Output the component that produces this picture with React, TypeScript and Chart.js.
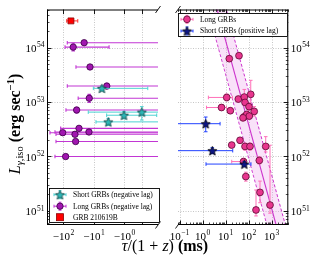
import React, { useEffect, useRef } from "react";
import { Chart, registerables, Scale } from "chart.js";

// ================= DATA =================
// Left panel (negative lags, ms)
const shortNegTau = [-5.5, -0.01, -1.04, -3.4];
const shortNegL = [1.78e53, 6.5e52, 5.7e52, 4.3e52];
const shortNegTauLo = [-10.5, -15.4, -3.84, -8.6];
const shortNegTauHi = [0.33, 5, 0.84, 5];
const shortNegLLo = [1.62e53, 4.65e52, 4.9e52, 3.7e52];
const shortNegLHi = [1.96e53, 8.2e52, 6.7e52, 5.0e52];

const longNegTau = [-21, -48, -13.5, -3.8, -14.3, -37, -31, -106, -14.6, -42, -40, -85];
const longNegL = [1.23e54, 1.02e54, 4.4e53, 1.96e53, 1.17e53, 7.1e52, 3.27e52, 2.72e52, 2.8e52, 2.54e52, 1.87e52, 9.9e51];
const longNegTauLo = [-75, -89, -39, -75, -33, -83, -124, -277, -190, -176, -176, -190];
const longNegTauHi = [5, -3.2, 5, 5, 5, 5, 5, 5, 5, 5, 5, 5];
const longNegLLo = [1.15e54, 0.87e54, 4.1e53, 1.75e53, 0.98e53, 6.3e52, 2.95e52, 2.5e52, 2.6e52, 2.35e52, 1.72e52, 9.3e51];
const longNegLHi = [1.32e54, 1.2e54, 4.7e53, 2.2e53, 1.38e53, 8.0e52, 3.6e52, 2.95e52, 3.0e52, 2.75e52, 2.03e52, 1.05e52];

const grbTau = [-57];
const grbL = [3.1e54];
const grbTauLo = [-78.5];
const grbTauHi = [-34];
const grbLLo = [2.95e54];
const grbLHi = [3.25e54];

// Right panel (positive lags, ms)
const longTau = [14.6, 38.6, 11.3, 36, 65.6, 125, 6.7, 16.2, 70.5, 105, 177, 63.7, 83.5, 108, 57.7, 18.6, 42.7, 70.5, 116, 560, 295, 60.7, 76.3, 316, 212, 861];
const longL = [6.25e53, 7.1e53, 1.21e53, 1.13e53, 1.23e53, 1.38e53, 7.9e52, 6.9e52, 9.8e52, 8.2e52, 6.7e52, 5.3e52, 5.9e52, 5.5e52, 5.1e52, 1.61e52, 1.97e52, 1.52e52, 1.52e52, 1.52e52, 8.4e51, 8.0e51, 4.24e51, 2.17e51, 1.03e51, 1.27e51];
const longTauLo = [12, 33, 1.8, 28, 55, 100, 1.5, 12, 60, 90, 150, 54, 70, 90, 48, 15, 35, 60, 98, 470, 250, 18.6, 65, 270, 180, 740];
const longTauHi = [18, 45, 20, 46, 78, 150, 11, 21, 82, 125, 210, 75, 100, 130, 68, 23, 52, 82, 135, 660, 350, 75, 90, 370, 250, 1000];
const longLLo = [5.7e53, 6.5e53, 1.05e53, 1.0e53, 0.9e53, 0.8e53, 7.0e52, 6.1e52, 8.5e52, 7.0e52, 5.5e52, 4.6e52, 5.2e52, 4.8e52, 4.5e52, 1.45e52, 1.75e52, 1.3e52, 1.3e52, 1.2e52, 7.2e51, 7.0e51, 3.5e51, 1.4e51, 0.8e51, 0.9e51];
const longLHi = [6.85e53, 7.8e53, 1.4e53, 1.28e53, 1.7e53, 2.5e53, 9.0e52, 7.8e52, 1.12e53, 9.6e52, 8.2e52, 6.1e52, 6.7e52, 6.3e52, 5.8e52, 1.8e52, 2.2e52, 1.75e52, 1.75e52, 2.3e52, 9.8e51, 9.2e51, 5.1e51, 3.5e51, 2.4e51, 1.6e52];

const shortPosTau = [1.38, 2.67, 65.6];
const shortPosL = [3.98e52, 1.27e52, 7.2e51];
const shortPosTauLo = [0.05, 0.05, 1.42];
const shortPosTauHi = [5.8, 20.6, 128];
const shortPosLLo = [2.83e52, 1.12e52, 6.5e51];
const shortPosLHi = [5.28e52, 1.44e52, 8.0e51];

// Fit line and 1-sigma band (end points)
const fitTau = [3, 6000];
const fitL = [8.8e54, 7.0e49];
const fitUpperL = [3.66e55, 2.93e50];
const fitLowerL = [2.1e54, 1.69e49];

// Ticks
const yTickExp = [51, 52, 53, 54];
const leftXTicks = [-100, -10, -1, 0];
const leftXLabels = ["2", "1", "0"];
const rightXTickExp = [-1, 0, 1, 2, 3];

// Legend labels
const leftLegend = ["Short GRBs (negative lag)", "Long GRBs (negative lag)", "GRB 210619B"];
const rightLegend = ["Long GRBs", "Short GRBs (positive lag)"];

// Axis ranges
const Y_MIN = 5.45e50;
const Y_MAX = 5.02e54;
const LX_MIN = -347;
const LX_MAX = 0.914;
const RX_MIN = 0.086;
const RX_MAX = 5373;

// ================= SYMLOG SCALE =================
const LIN = 0.574;
function symT(v: number): number {
  const a = Math.abs(v);
  return a <= 1 ? v * LIN : Math.sign(v) * (LIN + Math.log10(a));
}
function symInv(t: number): number {
  const a = Math.abs(t);
  return a <= LIN ? t / LIN : Math.sign(t) * Math.pow(10, a - LIN);
}

class SymLogScale extends (Scale as any) {
  static id = "symlog";
  static defaults = {};
  determineDataLimits() {
    this.min = this.options.min;
    this.max = this.options.max;
  }
  buildTicks() {
    return leftXTicks.map((v) => ({ value: v }));
  }
  getLabelForValue(v: number) {
    return String(v);
  }
  configure() {
    super.configure();
    this._t0 = symT(this.min);
    this._t1 = symT(this.max);
  }
  getPixelForValue(v: number) {
    return this.getPixelForDecimal((symT(v) - this._t0) / (this._t1 - this._t0));
  }
  getValueForPixel(p: number) {
    return symInv(this._t0 + this.getDecimalForPixel(p) * (this._t1 - this._t0));
  }
}

Chart.register(...registerables, SymLogScale as any);

// ================= HELPERS =================
const FONT = '"Liberation Serif", "DejaVu Serif", serif';

function line(ctx: CanvasRenderingContext2D, x1: number, y1: number, x2: number, y2: number) {
  ctx.beginPath();
  ctx.moveTo(x1, y1);
  ctx.lineTo(x2, y2);
  ctx.stroke();
}

function drawSci(ctx: CanvasRenderingContext2D, x: number, y: number, base: string, exp: string, align: string) {
  const size = 11;
  const es = 7.5;
  ctx.font = `${size}px ${FONT}`;
  const bw = ctx.measureText(base).width;
  ctx.font = `${es}px ${FONT}`;
  const ew = ctx.measureText(exp).width;
  const total = bw + ew + 0.5;
  const x0 = align === "right" ? x - total : align === "center" ? x - total / 2 : x;
  ctx.textAlign = "left";
  ctx.textBaseline = "alphabetic";
  ctx.fillStyle = "#000";
  ctx.font = `${size}px ${FONT}`;
  ctx.fillText(base, x0, y);
  ctx.font = `${es}px ${FONT}`;
  ctx.fillText(exp, x0 + bw + 0.5, y - 4.6);
}

type Part = { t: string; f: string; dy?: number };
function drawParts(ctx: CanvasRenderingContext2D, parts: Part[], cx: number, y: number) {
  let w = 0;
  for (const p of parts) {
    ctx.font = p.f;
    w += ctx.measureText(p.t).width;
  }
  let x = cx - w / 2;
  ctx.textAlign = "left";
  ctx.textBaseline = "alphabetic";
  ctx.fillStyle = "#000";
  for (const p of parts) {
    ctx.font = p.f;
    ctx.fillText(p.t, x, y + (p.dy || 0));
    x += ctx.measureText(p.t).width;
  }
}

function makeStar(r: number, fill: string, stroke: string) {
  const c = document.createElement("canvas");
  const s = Math.ceil(r * 2 + 3);
  c.width = s;
  c.height = s;
  const g = c.getContext("2d")!;
  g.translate(s / 2, s / 2 + 0.5);
  g.beginPath();
  for (let i = 0; i < 10; i++) {
    const rr = i % 2 === 0 ? r : r * 0.45;
    const ang = -Math.PI / 2 + (i * Math.PI) / 5;
    g.lineTo(rr * Math.cos(ang), rr * Math.sin(ang));
  }
  g.closePath();
  g.fillStyle = fill;
  g.fill();
  g.lineWidth = 0.8;
  g.strokeStyle = stroke;
  g.stroke();
  return c;
}

type ErrSpec = {
  index: number;
  x: number[];
  y: number[];
  xlo: number[];
  xhi: number[];
  ylo: number[];
  yhi: number[];
  color: string;
  lw: number;
};

function drawErrs(chart: any, e: ErrSpec) {
  const { ctx, chartArea: a } = chart;
  const xs = chart.scales.x;
  const ys = chart.scales.y;
  ctx.save();
  ctx.beginPath();
  ctx.rect(a.left, a.top, a.right - a.left, a.bottom - a.top);
  ctx.clip();
  ctx.strokeStyle = e.color;
  ctx.lineWidth = e.lw;
  const c = 1.8;
  for (let i = 0; i < e.x.length; i++) {
    const px = xs.getPixelForValue(e.x[i]);
    const py = ys.getPixelForValue(e.y[i]);
    const x1 = xs.getPixelForValue(e.xlo[i]);
    const x2 = xs.getPixelForValue(e.xhi[i]);
    const y1 = ys.getPixelForValue(e.ylo[i]);
    const y2 = ys.getPixelForValue(e.yhi[i]);
    line(ctx, x1, py, x2, py);
    line(ctx, px, y1, px, y2);
    line(ctx, x1, py - c, x1, py + c);
    line(ctx, x2, py - c, x2, py + c);
    line(ctx, px - c, y1, px + c, y1);
    line(ctx, px - c, y2, px + c, y2);
  }
  ctx.restore();
}

function drawGrid(chart: any, xVals: number[]) {
  const { ctx, chartArea: a } = chart;
  const xs = chart.scales.x;
  const ys = chart.scales.y;
  ctx.save();
  ctx.strokeStyle = "#b8b8b8";
  ctx.lineWidth = 0.8;
  ctx.setLineDash([1, 1.5]);
  for (const v of xVals) {
    const px = Math.round(xs.getPixelForValue(v)) + 0.5;
    if (px >= a.left && px <= a.right) line(ctx, px, a.top, px, a.bottom);
  }
  for (const e of yTickExp) {
    const py = Math.round(ys.getPixelForValue(Math.pow(10, e))) + 0.5;
    line(ctx, a.left, py, a.right, py);
  }
  ctx.restore();
}

function drawYTicks(chart: any, side: string) {
  const { ctx, chartArea: a } = chart;
  const ys = chart.scales.y;
  const x0 = side === "left" ? a.left : a.right;
  const dir = side === "left" ? 1 : -1;
  for (let d = 50; d <= 54; d++) {
    for (let m = 1; m <= 9; m++) {
      const v = m * Math.pow(10, d);
      if (v < Y_MIN || v > Y_MAX) continue;
      const py = Math.round(ys.getPixelForValue(v)) + 0.5;
      const len = m === 1 ? 4.5 : 2.5;
      ctx.lineWidth = m === 1 ? 0.9 : 0.7;
      line(ctx, x0, py, x0 + dir * len, py);
    }
  }
}

function breakMark(ctx: CanvasRenderingContext2D, x: number, y: number) {
  ctx.save();
  ctx.lineWidth = 0.9;
  line(ctx, x - 2.5, y + 3.5, x + 2.5, y - 3.5);
  ctx.restore();
}

function legendBox(ctx: CanvasRenderingContext2D, x: number, y: number, w: number, h: number) {
  ctx.save();
  ctx.fillStyle = "#ffffff";
  ctx.fillRect(x, y, w, h);
  ctx.strokeStyle = "#000";
  ctx.lineWidth = 0.9;
  ctx.strokeRect(x + 0.5, y + 0.5, w - 1, h - 1);
  ctx.restore();
}

function legendErr(ctx: CanvasRenderingContext2D, x: number, y: number, color: string) {
  ctx.save();
  ctx.strokeStyle = color;
  ctx.lineWidth = 1;
  line(ctx, x - 6, y, x + 6, y);
  line(ctx, x, y - 4, x, y + 4);
  line(ctx, x - 6, y - 1.5, x - 6, y + 1.5);
  line(ctx, x + 6, y - 1.5, x + 6, y + 1.5);
  line(ctx, x - 1.5, y - 4, x + 1.5, y - 4);
  line(ctx, x - 1.5, y + 4, x + 1.5, y + 4);
  ctx.restore();
}

function circle(ctx: CanvasRenderingContext2D, x: number, y: number, r: number, fill: string, stroke: string) {
  ctx.save();
  ctx.beginPath();
  ctx.arc(x, y, r, 0, Math.PI * 2);
  ctx.fillStyle = fill;
  ctx.fill();
  ctx.lineWidth = 0.8;
  ctx.strokeStyle = stroke;
  ctx.stroke();
  ctx.restore();
}

const PURPLE = "#A116B0";
const PURPLE_EDGE = "#3a0044";
const PURPLE_ERR = "#C236D4";
const CYAN = "#2DB6B6";
const CYAN_EDGE = "#0b3b3b";
const CYAN_ERR = "#4CD2D2";
const RED = "#FF0000";
const RED_EDGE = "#8a0000";
const PINK = "#E8358E";
const PINK_EDGE = "#5c0a32";
const PINK_ERR = "#FF70B8";
const NAVY = "#0d1585";
const BLUE_ERR = "#2242FF";
const FIT = "#CC33CC";

const pts = (xs: number[], ys: number[]) => xs.map((x, i) => ({ x, y: ys[i] }));

export default function App() {
  const leftRef = useRef<HTMLCanvasElement>(null);
  const rightRef = useRef<HTMLCanvasElement>(null);

  useEffect(() => {
    const cyanStar = makeStar(4.8, CYAN, CYAN_EDGE);
    const blueStar = makeStar(4.8, NAVY, "#000");

    const leftErrs: ErrSpec[] = [
      { index: 0, x: shortNegTau, y: shortNegL, xlo: shortNegTauLo, xhi: shortNegTauHi, ylo: shortNegLLo, yhi: shortNegLHi, color: CYAN_ERR, lw: 1 },
      { index: 1, x: longNegTau, y: longNegL, xlo: longNegTauLo, xhi: longNegTauHi, ylo: longNegLLo, yhi: longNegLHi, color: PURPLE_ERR, lw: 1.1 },
      { index: 2, x: grbTau, y: grbL, xlo: grbTauLo, xhi: grbTauHi, ylo: grbLLo, yhi: grbLHi, color: "#ff3030", lw: 1 },
    ];

    const leftPlugin = {
      id: "decorLeft",
      beforeDatasetsDraw(chart: any) {
        drawGrid(chart, leftXTicks);
      },
      beforeDatasetDraw(chart: any, args: any) {
        const e = leftErrs.find((s) => s.index === args.index);
        if (e) drawErrs(chart, e);
      },
      afterDatasetsDraw(chart: any) {
        const { ctx, chartArea: a } = chart;
        const xs = chart.scales.x;
        const ys = chart.scales.y;
        ctx.save();
        ctx.strokeStyle = "#000";
        ctx.lineWidth = 1;
        line(ctx, a.left + 0.5, a.top, a.left + 0.5, a.bottom);
        line(ctx, a.left, a.top + 0.5, a.right, a.top + 0.5);
        line(ctx, a.left, a.bottom - 0.5, a.right, a.bottom - 0.5);
        drawYTicks(chart, "left");
        ctx.lineWidth = 0.9;
        for (const v of leftXTicks) {
          const px = Math.round(xs.getPixelForValue(v)) + 0.5;
          line(ctx, px, a.top, px, a.top + 4.5);
          line(ctx, px, a.bottom, px, a.bottom - 4.5);
        }
        breakMark(ctx, a.right, a.top);
        breakMark(ctx, a.right, a.bottom);
        for (const e of yTickExp) {
          const py = ys.getPixelForValue(Math.pow(10, e));
          drawSci(ctx, a.left - 2.5, py + 4.5, "10", String(e), "right");
        }
        leftXLabels.forEach((lab, i) => {
          const px = xs.getPixelForValue(leftXTicks[i]);
          drawSci(ctx, px, a.bottom + 15, "\u221210", lab, "center");
        });
        ctx.restore();
      },
      afterDraw(chart: any) {
        const { ctx } = chart;
        ctx.save();
        // left legend
        const lx = 49, ly = 188, lw = 111, lh = 35;
        legendBox(ctx, lx, ly, lw, lh);
        const mx = 60;
        const rows = [194.7, 206.2, 217.2];
        legendErr(ctx, mx, rows[0], CYAN_ERR);
        ctx.drawImage(cyanStar, mx - cyanStar.width / 2, rows[0] - cyanStar.height / 2);
        legendErr(ctx, mx, rows[1], PURPLE_ERR);
        circle(ctx, mx, rows[1], 3.2, PURPLE, PURPLE_EDGE);
        ctx.fillStyle = RED;
        ctx.fillRect(mx - 3.5, rows[2] - 3.5, 7, 7);
        ctx.strokeStyle = RED_EDGE;
        ctx.lineWidth = 0.8;
        ctx.strokeRect(mx - 3.5, rows[2] - 3.5, 7, 7);
        ctx.fillStyle = "#000";
        ctx.font = `7.5px ${FONT}`;
        ctx.textAlign = "left";
        ctx.textBaseline = "middle";
        leftLegend.forEach((t, i) => ctx.fillText(t, 73, rows[i] + 0.5));

        // Y title (rotated)
        ctx.save();
        ctx.translate(14, 124);
        ctx.rotate(-Math.PI / 2);
        drawParts(
          ctx,
          [
            { t: "L", f: `italic 16px ${FONT}` },
            { t: "\u03b3", f: `italic 10.5px ${FONT}`, dy: 3.5 },
            { t: ",iso", f: `10.5px ${FONT}`, dy: 3.5 },
            { t: " (erg sec", f: `bold 16px ${FONT}` },
            { t: "\u22121", f: `bold 10.5px ${FONT}`, dy: -6 },
            { t: ")", f: `bold 16px ${FONT}` },
          ],
          0,
          5.5
        );
        ctx.restore();

        // X title
        drawParts(
          ctx,
          [
            { t: "\u03c4", f: `italic 16px ${FONT}` },
            { t: "/(1 + ", f: `16px ${FONT}` },
            { t: "z", f: `italic 16px ${FONT}` },
            { t: ")", f: `16px ${FONT}` },
            { t: " (ms)", f: `bold 16px ${FONT}` },
          ],
          165,
          251
        );
        ctx.restore();
      },
    };

    const rightErrs: ErrSpec[] = [
      { index: 0, x: shortPosTau, y: shortPosL, xlo: shortPosTauLo, xhi: shortPosTauHi, ylo: shortPosLLo, yhi: shortPosLHi, color: BLUE_ERR, lw: 1 },
      { index: 1, x: longTau, y: longL, xlo: longTauLo, xhi: longTauHi, ylo: longLLo, yhi: longLHi, color: PINK_ERR, lw: 1 },
    ];

    const rightPlugin = {
      id: "decorRight",
      beforeDatasetsDraw(chart: any) {
        drawGrid(chart, rightXTickExp.map((e) => Math.pow(10, e)));
      },
      beforeDatasetDraw(chart: any, args: any) {
        const e = rightErrs.find((s) => s.index === args.index);
        if (e) drawErrs(chart, e);
      },
      afterDatasetsDraw(chart: any) {
        const { ctx, chartArea: a } = chart;
        const xs = chart.scales.x;
        const ys = chart.scales.y;
        ctx.save();
        ctx.strokeStyle = "#000";
        ctx.lineWidth = 1;
        line(ctx, a.right - 0.5, a.top, a.right - 0.5, a.bottom);
        line(ctx, a.left, a.top + 0.5, a.right, a.top + 0.5);
        line(ctx, a.left, a.bottom - 0.5, a.right, a.bottom - 0.5);
        drawYTicks(chart, "right");
        for (let d = -2; d <= 3; d++) {
          for (let m = 1; m <= 9; m++) {
            const v = m * Math.pow(10, d);
            if (v < RX_MIN || v > RX_MAX) continue;
            const px = Math.round(xs.getPixelForValue(v)) + 0.5;
            const len = m === 1 ? 4.5 : 2.5;
            ctx.lineWidth = m === 1 ? 0.9 : 0.7;
            line(ctx, px, a.top, px, a.top + len);
            line(ctx, px, a.bottom, px, a.bottom - len);
          }
        }
        breakMark(ctx, a.left, a.top);
        breakMark(ctx, a.left, a.bottom);
        for (const e of yTickExp) {
          const py = ys.getPixelForValue(Math.pow(10, e));
          drawSci(ctx, a.right + 2.5, py + 4.5, "10", String(e), "left");
        }
        for (const e of rightXTickExp) {
          const px = xs.getPixelForValue(Math.pow(10, e));
          drawSci(ctx, px, a.bottom + 15, "10", e < 0 ? "\u2212" + Math.abs(e) : String(e), "center");
        }
        ctx.restore();
      },
      afterDraw(chart: any) {
        const { ctx } = chart;
        ctx.save();
        legendBox(ctx, 178, 13, 110, 24);
        const mx = 187;
        const rows = [19.3, 31];
        legendErr(ctx, mx, rows[0], PINK_ERR);
        circle(ctx, mx, rows[0], 3.4, PINK, PINK_EDGE);
        legendErr(ctx, mx, rows[1], BLUE_ERR);
        ctx.drawImage(blueStar, mx - blueStar.width / 2, rows[1] - blueStar.height / 2);
        ctx.fillStyle = "#000";
        ctx.font = `7.5px ${FONT}`;
        ctx.textAlign = "left";
        ctx.textBaseline = "middle";
        rightLegend.forEach((t, i) => ctx.fillText(t, 200, rows[i] + 0.5));
        ctx.restore();
      },
    };

    const commonPlugins = {
      legend: { display: false },
      tooltip: { enabled: false },
      title: { display: false },
    };

    const left = new Chart(leftRef.current!, {
      type: "scatter",
      data: {
        datasets: [
          { data: pts(shortNegTau, shortNegL), pointStyle: cyanStar as any, pointRadius: 5 },
          {
            data: pts(longNegTau, longNegL),
            pointStyle: "circle",
            pointRadius: 3.2,
            backgroundColor: PURPLE,
            borderColor: PURPLE_EDGE,
            borderWidth: 0.8,
          },
          {
            data: pts(grbTau, grbL),
            pointStyle: "rect",
            pointRadius: 4.2,
            backgroundColor: RED,
            borderColor: RED_EDGE,
            borderWidth: 0.8,
          },
        ],
      } as any,
      options: {
        animation: false,
        responsive: false,
        events: [],
        layout: { padding: { left: 47, top: 9.5, right: 162, bottom: 31 } },
        plugins: commonPlugins as any,
        scales: {
          x: { type: "symlog" as any, min: LX_MIN, max: LX_MAX, display: false } as any,
          y: { type: "logarithmic", min: Y_MIN, max: Y_MAX, display: false },
        },
      },
      plugins: [leftPlugin as any],
    });

    const right = new Chart(rightRef.current!, {
      type: "scatter",
      data: {
        datasets: [
          { data: pts(shortPosTau, shortPosL), pointStyle: blueStar as any, pointRadius: 5 },
          {
            data: pts(longTau, longL),
            pointStyle: "circle",
            pointRadius: 3.4,
            backgroundColor: PINK,
            borderColor: PINK_EDGE,
            borderWidth: 0.8,
          },
          {
            type: "line",
            data: pts(fitTau, fitL),
            borderColor: FIT,
            borderWidth: 1.1,
            pointRadius: 0,
            fill: false,
          },
          {
            type: "line",
            data: pts(fitTau, fitUpperL),
            borderColor: FIT,
            borderWidth: 1,
            borderDash: [3, 2],
            pointRadius: 0,
            fill: "+1",
            backgroundColor: "rgba(232,150,232,0.28)",
          },
          {
            type: "line",
            data: pts(fitTau, fitLowerL),
            borderColor: FIT,
            borderWidth: 1,
            borderDash: [3, 2],
            pointRadius: 0,
            fill: false,
          },
        ],
      } as any,
      options: {
        animation: false,
        responsive: false,
        events: [],
        layout: { padding: { left: 178, top: 9.5, right: 31.7, bottom: 31 } },
        plugins: commonPlugins as any,
        scales: {
          x: { type: "logarithmic", min: RX_MIN, max: RX_MAX, display: false },
          y: { type: "logarithmic", min: Y_MIN, max: Y_MAX, display: false },
        },
      },
      plugins: [rightPlugin as any],
    });

    return () => {
      left.destroy();
      right.destroy();
    };
  }, []);

  return (
    <div style={{ position: "absolute", left: 0, top: 0, width: 320, height: 256, background: "#fff" }}>
      <canvas ref={leftRef} width={320} height={256} style={{ position: "absolute", left: 0, top: 0 }} />
      <canvas ref={rightRef} width={320} height={256} style={{ position: "absolute", left: 0, top: 0 }} />
    </div>
  );
}
